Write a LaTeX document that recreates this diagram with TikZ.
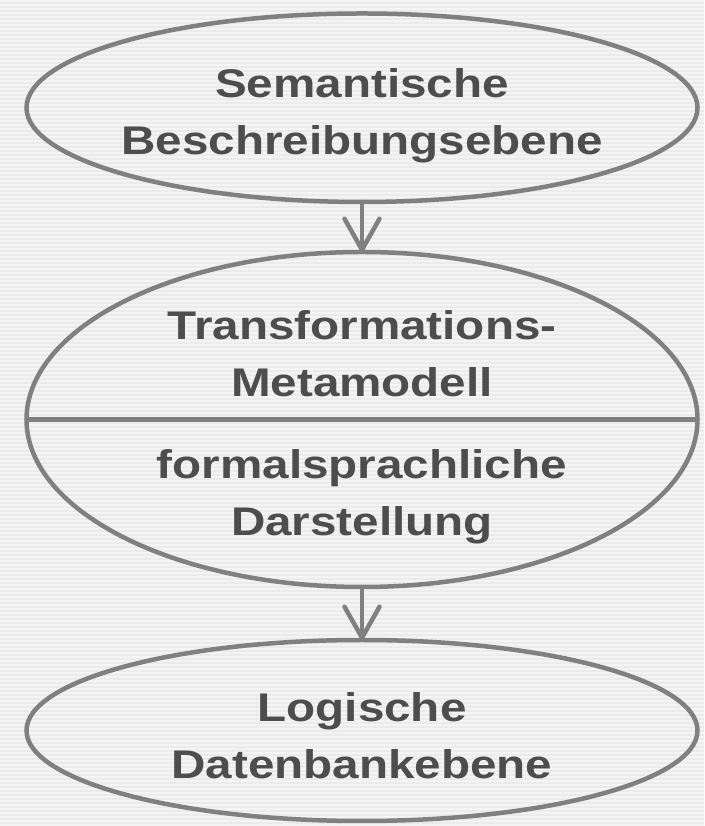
\documentclass[tikz,border=0pt]{standalone}
\usepackage{fontspec}
\newfontfamily\lblfont{Liberation Sans}[FakeStretch=1.19]
\usetikzlibrary{arrows.meta,positioning,shapes.geometric}
\definecolor{linegray}{HTML}{808080}
\definecolor{textgray}{HTML}{4D4D4D}
\newcommand\lblsize{\fontsize{40pt}{57pt}\selectfont}
\tikzset{
  level/.style={draw=linegray,line width=4.5pt,ellipse,minimum width=671pt,inner sep=0pt,outer sep=0pt},
  lbl/.style={text=textgray,font=\lblfont\bfseries\lblsize,align=center,inner sep=0pt},
  flow/.style={draw=linegray,line width=4.5pt,line cap=round,
    -{Straight Barb[length=31pt,width=35pt,line cap=round,line join=round]}}
}

\begin{document}
\begin{tikzpicture}[x=1pt,y=1pt]

% background
\useasboundingbox (0,0) rectangle (704,826);
\shade[left color=black!8,middle color=black!3,right color=black!8] (0,0) rectangle (704,826);
\foreach \y in {0,4,...,824}
  \fill[white,opacity=0.45] (0,\y) rectangle (704,\y+2);

\node[level,minimum height=188.5pt] (sem) at (362,718.25) {};
\node[level,minimum height=335pt,below=50pt of sem] (trans) {};
\node[level,minimum height=181pt,below=53pt of trans] (logic) {};

\draw[draw=linegray,line width=4.5pt] (trans.west) -- (trans.east);

\node[lbl] (semtxt) at ([yshift=-8pt]sem.center) {Semantische\\Beschreibungsebene};
\node[lbl] (transtop) at ([yshift=65.5pt]trans.center) {Transformations-\\Metamodell};
\node[lbl] (transbot) at ([yshift=-77.5pt]trans.center) {formalsprachliche\\Darstellung};
\node[lbl] (logictxt) at ([yshift=-5.5pt]logic.center) {Logische\\Datenbankebene};

\draw[flow] (sem) -- (trans);
\draw[flow] (trans) -- (logic);

\end{tikzpicture}
\end{document}
